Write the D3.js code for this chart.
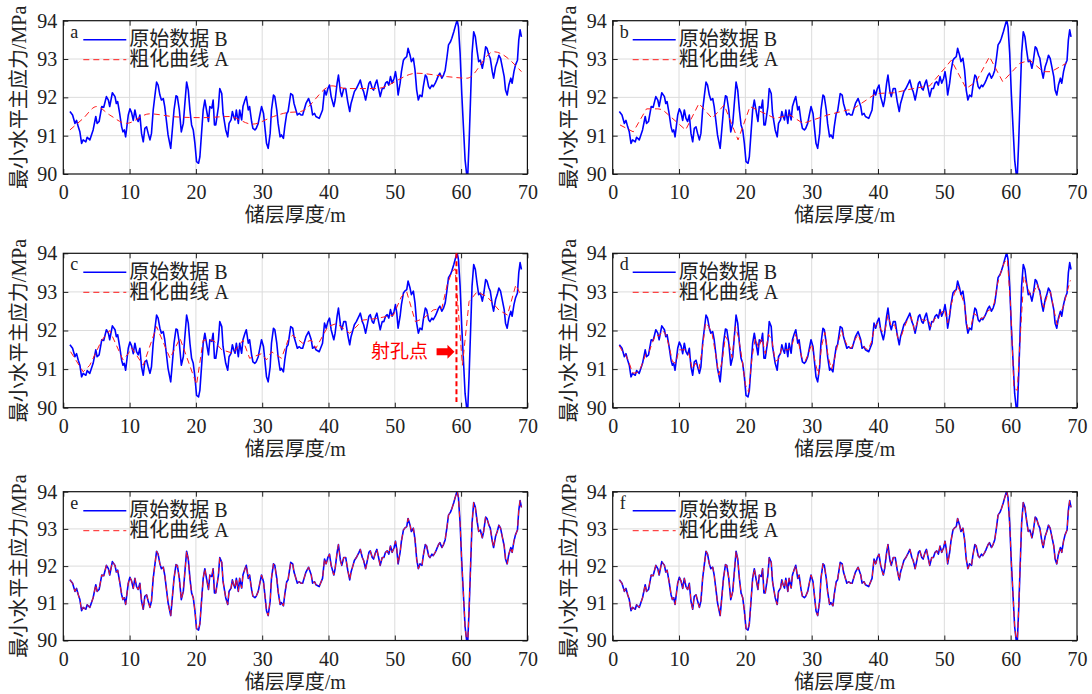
<!DOCTYPE html>
<html>
<head>
<meta charset="utf-8">
<script src="https://cdn.jsdelivr.net/npm/d3@7"></script>
<style>
  body { margin: 0; background: #fff; }
  svg { display: block; }
  text { font-family: "Liberation Serif", "Noto Sans CJK SC", serif; fill: #222; }
</style>
</head>
<body>
<div id="chart"></div>
<script>
// Original (raw) stress profile B: [depth m, stress MPa]
const rawB = [
  [1.0,91.63],[1.4,91.54],[1.76,91.32],[2.0,91.4],[2.26,91.23],[2.5,91.1],[2.76,90.8],[3.0,90.89],[3.4,90.84],[3.6,90.96],
  [4.0,90.89],[4.5,91.15],[4.9,91.5],[5.1,91.32],[5.4,91.37],[5.8,91.76],[6.1,91.74],[6.5,92.02],[6.8,91.93],[7.0,91.76],
  [7.4,92.12],[7.8,92.02],[8.0,91.84],[8.2,91.89],[8.5,91.58],[8.8,91.23],[9.0,91.1],[9.2,91.15],[9.4,90.97],[9.8,91.54],
  [10.05,91.7],[10.3,91.6],[10.55,91.4],[10.8,91.67],[11.05,91.45],[11.3,91.37],[11.55,91.54],[11.8,91.06],[12.06,90.84],[12.3,91.19],
  [12.56,91.23],[12.8,91.06],[13.07,90.89],[13.3,91.06],[13.56,91.67],[13.8,92.02],[14.07,92.4],[14.3,92.32],[14.57,92.06],[14.8,91.93],
  [15.08,91.97],[15.3,91.76],[15.6,91.32],[15.8,91.02],[16.2,90.67],[16.4,91.06],[16.7,91.67],[17.0,92.04],[17.2,92.02],[17.5,91.67],
  [17.8,91.1],[18.1,91.32],[18.3,91.76],[18.6,92.4],[18.85,92.19],[19.1,91.67],[19.35,91.28],[19.6,91.15],[19.85,90.8],[20.1,90.32],
  [20.4,90.28],[20.6,90.45],[20.85,91.06],[21.1,91.67],[21.35,91.93],[21.6,91.67],[21.9,91.37],[22.1,91.76],[22.4,91.72],[22.6,91.93],
  [22.8,91.28],[23.0,91.28],[23.4,91.76],[23.6,92.23],[23.9,92.1],[24.1,91.58],[24.5,91.15],[24.8,90.97],[25.0,91.32],[25.3,91.41],
  [25.5,91.63],[25.7,91.5],[25.9,91.41],[26.1,91.67],[26.4,91.32],[26.6,91.67],[26.9,91.41],[27.1,91.76],[27.4,91.93],[27.6,92.02],
  [27.9,91.67],[28.1,91.76],[28.4,91.37],[28.6,91.19],[28.9,91.15],[29.1,91.19],[29.4,91.32],[29.6,91.5],[29.9,91.76],[30.2,91.58],
  [30.4,91.23],[30.65,90.8],[30.9,90.67],[31.2,91.06],[31.4,91.67],[31.7,92.06],[31.9,92.02],[32.2,91.67],[32.4,91.32],[32.7,90.97],
  [32.9,91.02],[33.2,90.93],[33.4,91.23],[33.7,91.58],[33.9,91.63],[34.3,92.1],[34.6,92.06],[34.8,91.84],[35.3,91.54],[35.6,91.58],
  [35.85,91.54],[36.1,91.54],[36.6,91.84],[37.0,91.97],[37.4,91.76],[37.6,91.54],[37.9,91.58],[38.1,91.5],[38.6,91.45],[39.1,91.67],
  [39.4,92.19],[39.65,92.06],[39.9,92.23],[40.15,92.32],[40.4,92.02],[40.8,91.76],[41.0,91.93],[41.3,92.37],[41.5,92.58],[41.8,92.15],
  [42.0,92.02],[42.3,92.23],[42.6,92.23],[42.9,91.89],[43.2,91.63],[43.4,91.84],[43.7,92.02],[43.9,92.15],[44.2,92.23],[44.6,92.37],
  [44.8,92.45],[45.1,92.23],[45.3,92.15],[45.6,91.93],[45.8,92.1],[46.1,92.37],[46.3,92.41],[46.6,92.23],[46.8,92.19],[47.1,92.37],
  [47.3,92.45],[47.6,92.19],[47.8,92.02],[48.1,92.23],[48.35,92.23],[48.6,92.37],[48.85,92.41],[49.1,92.32],[49.35,92.54],[49.6,92.37],
  [49.9,92.5],[50.1,92.67],[50.3,92.45],[50.5,92.06],[50.8,92.37],[51.0,92.67],[51.3,92.97],[51.5,93.02],[51.8,93.06],[52.0,93.28],
  [52.3,93.1],[52.5,92.93],[52.8,93.02],[53.05,92.71],[53.3,92.19],[53.55,91.93],[53.8,92.06],[54.1,92.02],[54.3,92.28],[54.6,92.58],
  [54.8,92.54],[55.1,92.28],[55.3,92.23],[55.6,92.32],[55.8,92.28],[56.1,92.37],[56.3,92.45],[56.6,92.58],[56.8,92.63],[57.1,92.5],
  [57.35,92.58],[57.6,92.71],[57.85,93.02],[58.1,93.37],[58.4,93.45],[58.6,93.54],[58.9,93.71],[59.1,93.84],[59.4,94.02],[59.6,93.84],
  [59.85,93.15],[60.1,92.1],[60.4,91.06],[60.6,90.37],[60.9,89.9],[61.0,89.95],[61.2,90.8],[61.4,91.84],[61.65,93.15],[61.9,93.71],
  [62.15,93.58],[62.4,93.23],[62.65,92.93],[62.9,92.97],[63.2,92.76],[63.4,92.93],[63.7,93.32],[63.9,93.28],[64.2,93.1],[64.4,93.02],
  [64.7,92.67],[64.9,92.5],[65.2,92.8],[65.45,92.93],[65.7,93.1],[65.95,93.02],[66.2,92.8],[66.5,92.54],[66.7,92.19],[66.95,92.06],
  [67.2,92.32],[67.5,92.5],[67.7,92.37],[67.97,92.67],[68.2,92.84],[68.5,92.97],[68.7,93.5],[68.9,93.76],[69.1,93.58]
];

// Coarsened curves A for each panel
const coarseA = [
  [1,91.15],[3,91.45],[5,91.76],[7,91.54],[9.5,91.32],[13,91.57],[17,91.49],[21,91.47],[25,91.5],[28.5,91.3],
  [31.7,91.5],[33.7,91.6],[35.8,91.63],[40.5,92.3],[42.7,92.23],[47.2,92.23],[53.3,92.63],[57.9,92.54],[60.9,92.5],
  [64.9,93.19],[69.1,92.67]
];
const coarseB = [
  [1.1,91.28],[3.1,91.1],[5.1,91.7],[6.8,91.7],[7.5,91.68],[11.0,91.15],[13.0,91.84],[15.0,91.45],[16.8,91.8],[18.9,90.89],
  [20.7,91.76],[24.5,91.45],[26.7,91.54],[28.7,91.32],[32.4,91.54],[35.4,91.67],[36.0,91.67],[39.7,92.1],[42.5,92.12],[45.3,92.23],
  [47.8,92.3],[50.05,92.76],[51.05,92.97],[53.3,92.23],[54.8,92.41],[56.8,93.06],[58.8,92.41],[61.4,92.89],[62.9,92.97],[64.9,92.67],
  [66.1,92.67],[68.4,92.89]
];
const coarseC = [
  [1.1,91.45],[3.0,90.93],[4.0,91.1],[5.8,91.75],[7.0,92.0],[9.0,91.24],[9.8,91.4],[10.3,91.55],[12.06,91.1],[14.07,92.1],
  [16.1,91.28],[17.6,91.8],[20.1,90.6],[21.1,91.75],[22.6,91.75],[23.9,91.5],[25.6,91.41],[27.1,91.75],[28.1,91.28],[29.9,91.4],
  [30.65,91.24],[31.4,91.45],[32.9,91.28],[33.9,91.75],[34.6,91.88],[36.1,91.67],[37.4,91.75],[38.1,91.54],[39.9,92.1],[41.2,92.18],
  [43.2,91.93],[45.2,92.27],[47.2,92.31],[49.8,92.4],[51.0,92.88],[51.8,93.0],[53.1,92.23],[54.3,92.31],[55.8,92.53],[57.1,92.58],
  [57.9,93.18],[58.6,93.52],[59.1,93.6],[60.2,91.1],[61.2,92.75],[62.4,93.0],[63.9,92.88],[65.7,92.53],[67.0,92.4],[68.25,93.18],
  [68.9,92.96]
];
const coarseD = [
  [1.0,91.6],[1.5,91.45],[2.0,91.35],[2.5,91.15],[3.0,90.9],[3.5,90.9],[4.0,90.95],[4.5,91.15],[5.0,91.4],[5.5,91.45],
  [6.0,91.7],[6.5,91.9],[7.0,91.85],[7.5,92.0],[8.0,91.9],[8.5,91.6],[9.0,91.2],[9.5,91.15],[10.0,91.5],[10.5,91.5],
  [11.0,91.5],[11.5,91.4],[12.0,91.0],[12.5,91.15],[13.0,91.0],[13.5,91.5],[14.0,92.2],[14.5,92.1],[15.0,91.9],[15.5,91.4],
  [16.0,90.85],[16.5,91.2],[17.0,91.85],[17.5,91.7],[18.0,91.3],[18.5,92.1],[19.0,91.8],[19.5,91.25],[20.0,90.6],[20.5,90.4],
  [21.0,91.3],[21.5,91.8],[22.0,91.55],[22.5,91.8],[23.0,91.4],[23.5,91.9],[24.0,91.75],[24.5,91.2],[25.0,91.25],[25.5,91.55],
  [26.0,91.5],[26.5,91.5],[27.0,91.6],[27.5,91.9],[28.0,91.7],[28.5,91.3],[29.0,91.2],[29.5,91.4],[30.0,91.65],[30.5,91.2],
  [31.0,90.85],[31.5,91.6],[32.0,91.95],[32.5,91.3],[33.0,91.0],[33.5,91.3],[34.0,91.7],[34.5,92.0],[35.0,91.75],[35.5,91.55],
  [36.0,91.55],[36.5,91.75],[37.0,91.9],[37.5,91.65],[38.0,91.55],[38.5,91.5],[39.0,91.7],[39.5,92.1],[40.0,92.2],[40.5,92.0],
  [41.0,91.95],[41.5,92.4],[42.0,92.1],[42.5,92.15],[43.0,91.8],[43.5,91.85],[44.0,92.1],[44.5,92.3],[45.0,92.35],[45.5,92.0],
  [46.0,92.25],[46.5,92.3],[47.0,92.25],[47.5,92.3],[48.0,92.1],[48.5,92.3],[49.0,92.35],[49.5,92.45],[50.0,92.55],[50.5,92.2],
  [51.0,92.65],[51.5,92.95],[52.0,93.15],[52.5,92.95],[53.0,92.7],[53.5,92.05],[54.0,92.1],[54.5,92.45],[55.0,92.35],[55.5,92.3],
  [56.0,92.35],[56.5,92.5],[57.0,92.55],[57.5,92.7],[58.0,93.2],[58.5,93.5],[59.0,93.75],[59.5,93.85],[60.0,92.6],[60.5,90.5],
  [61.0,90.45],[61.5,92.0],[62.0,93.4],[62.5,93.15],[63.0,92.9],[63.5,93.0],[64.0,93.2],[64.5,92.9],[65.0,92.6],[65.5,92.9],
  [66.0,93.0],[66.5,92.55],[67.0,92.15],[67.5,92.45],[68.0,92.65],[68.5,93.0],[69.0,93.3]
];
// panels e and f: coarsened curve coincides with the raw data
const coarseE = rawB;
const coarseF = rawB;

const xTicks = [0, 10, 20, 30, 40, 50, 60, 70];
const yTicks = [90, 91, 92, 93, 94];
const panelTags = ['a', 'b', 'c', 'd', 'e', 'f'];
const legendLabels = ['原始数据 B', '粗化曲线 A'];
const xTitle = '储层厚度/m';
const yTitle = '最小水平主应力/MPa';
// perforation point marked in panel c
const perfDepth = 59.3;
const perfLabel = '射孔点';

const W = 1092, H = 694;
const cols = [{left: 63.3, right: 527.4}, {left: 612.7, right: 1077}];
const rows = [{top: 20.7, bottom: 174}, {top: 253.3, bottom: 407.7}, {top: 491.7, bottom: 640.5}];
const coarseSets = [coarseA, coarseB, coarseC, coarseD, coarseE, coarseF];

const svg = d3.select('#chart').append('svg')
    .attr('width', W)
    .attr('height', H);

panelTags.forEach((tag, i) => {
    const col = cols[i % 2], row = rows[Math.floor(i / 2)];
    const x = d3.scaleLinear().domain([0, 70]).range([col.left, col.right]);
    const y = d3.scaleLinear().domain([90, 94]).range([row.bottom, row.top]);
    const g = svg.append('g');

    // clip for lines
    const clipId = 'clip-' + tag;
    svg.append('clipPath').attr('id', clipId)
        .append('rect')
        .attr('x', col.left).attr('y', row.top)
        .attr('width', col.right - col.left).attr('height', row.bottom - row.top);

    // grid
    g.selectAll('.gx').data(xTicks.slice(1, -1)).join('line')
        .attr('x1', d => x(d)).attr('x2', d => x(d))
        .attr('y1', row.top).attr('y2', row.bottom)
        .attr('stroke', '#dcdcdc').attr('stroke-width', 1);
    g.selectAll('.gy').data(yTicks.slice(1, -1)).join('line')
        .attr('x1', col.left).attr('x2', col.right)
        .attr('y1', d => y(d)).attr('y2', d => y(d))
        .attr('stroke', '#dcdcdc').attr('stroke-width', 1);

    // lines
    const line = d3.line().x(d => x(d[0])).y(d => y(d[1]));
    const lines = g.append('g').attr('clip-path', `url(#${clipId})`);
    lines.append('path')
        .datum(rawB)
        .attr('d', line)
        .attr('fill', 'none')
        .attr('stroke', '#0000ff')
        .attr('stroke-width', 1.6)
        .attr('stroke-linejoin', 'round');
    lines.append('path')
        .datum(coarseSets[i])
        .attr('d', tag === 'a' ? line.curve(d3.curveMonotoneX) : line.curve(d3.curveLinear))
        .attr('fill', 'none')
        .attr('stroke', '#ff1a1a')
        .attr('stroke-width', 1)
        .attr('stroke-dasharray', '6,4');

    // axes with inward ticks
    g.append('g').attr('transform', `translate(0,${row.bottom})`)
        .call(d3.axisBottom(x).tickValues(xTicks).tickSize(-5).tickPadding(11).tickFormat(d3.format('d')));
    g.append('g').attr('transform', `translate(${col.left},0)`)
        .call(d3.axisLeft(y).tickValues(yTicks).tickSize(-5).tickPadding(6).tickFormat(d3.format('d')));
    g.append('g').attr('transform', `translate(0,${row.top})`)
        .call(d3.axisTop(x).tickValues(xTicks).tickSize(-5).tickFormat(''));
    g.append('g').attr('transform', `translate(${col.right},0)`)
        .call(d3.axisRight(y).tickValues(yTicks).tickSize(-5).tickFormat(''));
    g.selectAll('.domain').remove();
    g.selectAll('.tick line').attr('stroke', '#222');
    g.selectAll('.tick text')
        .style('font-family', '"Liberation Serif", serif')
        .style('font-size', '20px')
        .attr('fill', '#222');

    g.append('rect')
        .attr('x', col.left).attr('y', row.top)
        .attr('width', col.right - col.left).attr('height', row.bottom - row.top)
        .attr('fill', 'none').attr('stroke', '#111').attr('stroke-width', 1.2);

    // axis titles
    g.append('text')
        .attr('x', (col.left + col.right) / 2)
        .attr('y', row.bottom + 48)
        .attr('text-anchor', 'middle')
        .style('font-size', '20px')
        .text(xTitle);
    g.append('text')
        .attr('transform', `translate(${col.left - 44},${(row.top + row.bottom) / 2}) rotate(-90)`)
        .attr('text-anchor', 'middle')
        .attr('dy', '0.35em')
        .style('font-size', '20px')
        .text(yTitle);

    // panel tag and legend
    g.append('text')
        .attr('x', col.left + 7)
        .attr('y', row.top + 17)
        .style('font-size', '18px')
        .text(tag);
    const lg = g.append('g').attr('transform', `translate(${col.left + 20},${row.top + 19})`);
    lg.append('line').attr('x1', 0).attr('x2', 43).attr('y1', 0).attr('y2', 0)
        .attr('stroke', '#0000ff').attr('stroke-width', 1.6);
    lg.append('line').attr('x1', 0).attr('x2', 43).attr('y1', 20).attr('y2', 20)
        .attr('stroke', '#ff1a1a').attr('stroke-width', 1).attr('stroke-dasharray', '6,4');
    lg.selectAll('.lt').data(legendLabels).join('text')
        .attr('x', 46)
        .attr('y', (d, k) => k * 20)
        .attr('dy', '0.33em')
        .style('font-size', '20px')
        .text(d => d);

    // perforation annotation in panel c
    if (tag === 'c') {
        g.append('line')
            .attr('x1', x(perfDepth)).attr('x2', x(perfDepth))
            .attr('y1', y(94)).attr('y2', y(90.15))
            .attr('stroke', '#ff0000').attr('stroke-width', 2)
            .attr('stroke-dasharray', '5,3');
        const ay = y(91.45), ax0 = x(56.3), ax1 = x(59.0), axh = ax1 - 7;
        g.append('path')
            .attr('d', `M${ax0},${ay - 3.5}L${axh},${ay - 3.5}L${axh},${ay - 7}L${ax1},${ay}` +
                       `L${axh},${ay + 7}L${axh},${ay + 3.5}L${ax0},${ay + 3.5}Z`)
            .attr('fill', '#ff0000');
        g.append('text')
            .attr('x', x(55.0))
            .attr('y', ay)
            .attr('dy', '0.35em')
            .attr('text-anchor', 'end')
            .style('font-family', '"Noto Sans CJK SC", sans-serif')
            .style('font-size', '19px')
            .style('fill', '#ff0000')
            .text(perfLabel);
    }
});
</script>
</body>
</html>
